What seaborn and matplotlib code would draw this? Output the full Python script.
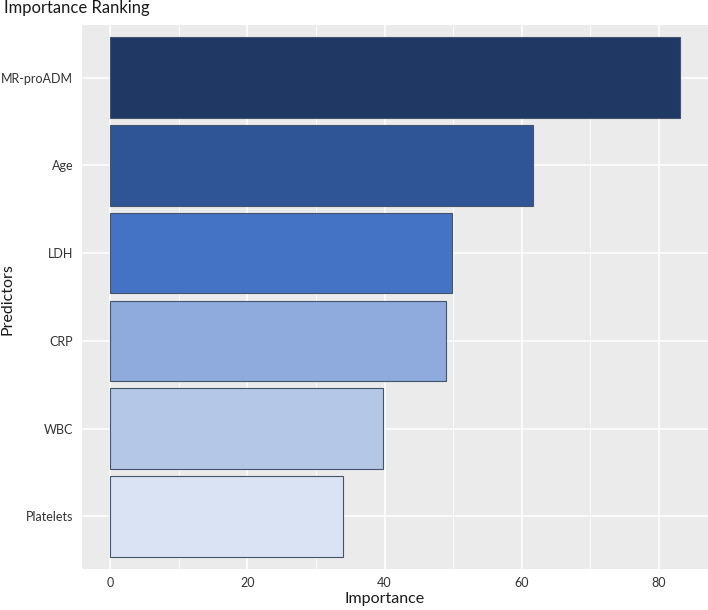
import matplotlib
matplotlib.use("Agg")
import matplotlib.pyplot as plt
import pandas as pd
import seaborn as sns
from matplotlib.ticker import MultipleLocator

predictors = ["MR-proADM", "Age", "LDH", "CRP", "WBC", "Platelets"]
importance = [83.0, 61.6, 49.8, 49.0, 39.7, 34.0]
bar_colors = ["#203864", "#2F5597", "#4472C4", "#8FAADC", "#B4C7E7", "#DAE3F3"]
x_ticks = [0, 20, 40, 60, 80]

sns.set_style("darkgrid", {"axes.facecolor": "#EBEBEB", "grid.color": "white"})
plt.rcParams["font.family"] = ["Lato", "DejaVu Sans"]

df = pd.DataFrame({"Predictors": predictors, "Importance": importance})

W, H = 708, 610
fig = plt.figure(figsize=(W / 100, H / 100), dpi=100)
# panel: x 81.7..708, y 25..569 (pixels from top-left)
ax = fig.add_axes([81.7 / W, 1 - 569 / H, (W - 81.7) / W, (569 - 25) / H])

sns.barplot(
    data=df, x="Importance", y="Predictors", hue="Predictors",
    palette=bar_colors, order=predictors, width=0.92, saturation=1,
    edgecolor="#44546A", linewidth=0.8, legend=False, ax=ax,
)

ax.set_xlim(-4.15, 87.15)
ax.set_ylim(5.6, -0.6)
ax.set_xticks(x_ticks)
ax.xaxis.set_minor_locator(MultipleLocator(10))
ax.grid(which="major", color="white", linewidth=1.1)
ax.grid(which="minor", axis="x", color="white", linewidth=0.6)
ax.set_axisbelow(True)
for s in ax.spines.values():
    s.set_visible(False)

ax.tick_params(axis="both", which="major", length=3, width=0.8, color="#333333",
               labelsize=9, labelcolor="#333333", pad=3)
ax.tick_params(which="minor", length=0)

ax.set_xlabel("Importance", fontsize=11.5, color="#1A1A1A")
ax.set_ylabel("Predictors", fontsize=11.5, color="#1A1A1A")
ax.xaxis.set_label_coords((385 - 81.7) / (W - 81.7), -(603 - 569) / (569 - 25))
ax.xaxis.label.set_va("baseline")
ax.yaxis.set_label_coords(-(81.7 - 7.5) / (W - 81.7), (569 - 299) / (569 - 25))
ax.yaxis.label.set_va("center")

fig.text(4 / W, 1 - 13.5 / H, "Importance Ranking", fontsize=12, va="baseline",
         ha="left", color="#1A1A1A")

fig.savefig("out.png", dpi=100)
